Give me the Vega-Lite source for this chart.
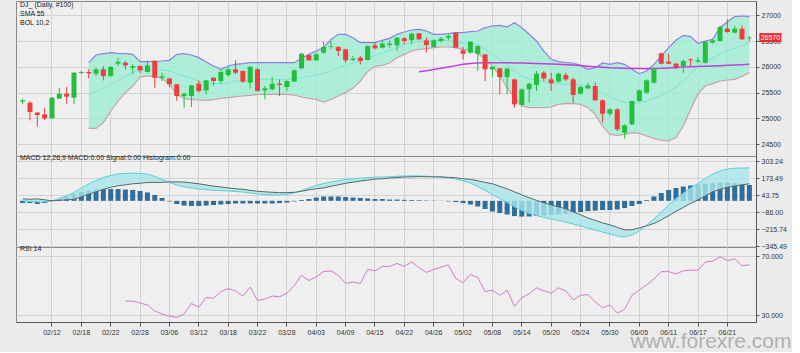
{
  "$schema": "https://vega.github.io/schema/vega-lite/v6.json",
  "background": "#ebebeb",
  "padding": {"left": 15, "top": 0, "right": 0, "bottom": 0},
  "spacing": 0,
  "bounds": "flush",
  "resolve": {"scale": {"x": "shared"}},
  "config": {
    "font": "Liberation Sans",
    "view": {"stroke": "#888888", "fill": "#efefef"},
    "axis": {"labelFontSize": 7, "labelColor": "#333333", "gridColor": "#d3d3d3", "domainColor": "#555555", "tickColor": "#555555", "labelFont": "Liberation Sans", "labelOverlap": false},
    "title": {"fontSize": 7, "fontWeight": "normal", "color": "#222222", "font": "Liberation Sans"}
  },
  "data": {"values": [
    {"d":"02/06","o":25324,"h":25382,"l":25272,"c":25349,"m":-1,"g":15,"hs":-17},
    {"d":"02/07","o":25304,"h":25337,"l":24960,"c":25123,"m":-5,"g":12,"hs":-17},
    {"d":"02/08","o":25110,"h":25123,"l":24837,"c":25064,"m":-9,"g":15,"hs":-24},
    {"d":"02/11","o":25077,"h":25207,"l":24967,"c":25000,"m":-9,"g":8,"hs":-17},
    {"d":"02/12","o":25000,"h":25414,"l":24995,"c":25401,"m":-1,"g":0,"hs":-1},
    {"d":"02/13","o":25382,"h":25596,"l":25382,"c":25479,"m":18,"g":4,"hs":14},
    {"d":"02/14","o":25479,"h":25609,"l":25285,"c":25421,"m":37,"g":8,"hs":29},
    {"d":"02/15","o":25401,"h":25900,"l":25272,"c":25888,"m":64,"g":11,"hs":52},
    {"d":"02/18","o":25880,"h":25920,"l":25868,"c":25900,"m":98,"g":31,"hs":67},
    {"d":"02/19","o":25901,"h":25953,"l":25777,"c":25875,"m":128,"g":50,"hs":79,"bu":26082,"bm":25466,"bl":24805},
    {"d":"02/20","o":25868,"h":25985,"l":25823,"c":25953,"m":155,"g":69,"hs":86,"bu":26231,"bm":25518,"bl":24805},
    {"d":"02/21","o":25953,"h":26017,"l":25738,"c":25823,"m":178,"g":88,"hs":90,"bu":26257,"bm":25583,"bl":24915},
    {"d":"02/22","o":25823,"h":26017,"l":25803,"c":25998,"m":193,"g":103,"hs":90,"bu":26277,"bm":25661,"bl":25142},
    {"d":"02/25","o":26063,"h":26180,"l":26017,"c":26102,"m":205,"g":115,"hs":90,"bu":26264,"bm":25739,"bl":25336},
    {"d":"02/26","o":26082,"h":26115,"l":25953,"c":26030,"m":209,"g":122,"hs":86,"bu":26257,"bm":25816,"bl":25499,"r":39.6},
    {"d":"02/27","o":25985,"h":26050,"l":25868,"c":26017,"m":212,"g":130,"hs":83,"bu":26244,"bm":25888,"bl":25628,"r":39.6},
    {"d":"02/28","o":26017,"h":26030,"l":25875,"c":25933,"m":209,"g":134,"hs":75,"bu":26102,"bm":25940,"bl":25803,"r":38.3},
    {"d":"03/01","o":25901,"h":26128,"l":25888,"c":26030,"m":203,"g":140,"hs":64,"bu":26102,"bm":25959,"bl":25823,"r":37},
    {"d":"03/04","o":26115,"h":26128,"l":25596,"c":25790,"m":186,"g":141,"hs":45,"bu":26108,"bm":25959,"bl":25816,"r":32.9},
    {"d":"03/05","o":25790,"h":25888,"l":25726,"c":25816,"m":163,"g":141,"hs":22,"bu":26115,"bm":25946,"bl":25777,"r":30.9},
    {"d":"03/06","o":25777,"h":25790,"l":25609,"c":25661,"m":140,"g":145,"hs":-5,"bu":26128,"bm":25920,"bl":25661,"r":29.5},
    {"d":"03/07","o":25661,"h":25670,"l":25337,"c":25434,"m":121,"g":145,"hs":-24,"bu":26244,"bm":25868,"bl":25466,"r":28.5},
    {"d":"03/08","o":25434,"h":25499,"l":25207,"c":25479,"m":107,"g":143,"hs":-36,"bu":26257,"bm":25823,"bl":25388,"r":31},
    {"d":"03/11","o":25434,"h":25650,"l":25220,"c":25641,"m":98,"g":137,"hs":-39,"bu":26231,"bm":25777,"bl":25362,"r":38},
    {"d":"03/12","o":25674,"h":25739,"l":25499,"c":25531,"m":90,"g":130,"hs":-39,"bu":26180,"bm":25726,"bl":25356,"r":35.5},
    {"d":"03/13","o":25544,"h":25739,"l":25466,"c":25739,"m":85,"g":121,"hs":-36,"bu":26095,"bm":25680,"bl":25349,"r":42},
    {"d":"03/14","o":25790,"h":25803,"l":25641,"c":25726,"m":80,"g":112,"hs":-32,"bu":26017,"bm":25674,"bl":25362,"r":41.5},
    {"d":"03/15","o":25726,"h":25953,"l":25674,"c":25901,"m":78,"g":106,"hs":-28,"bu":25953,"bm":25674,"bl":25388,"r":46},
    {"d":"03/18","o":25842,"h":25998,"l":25803,"c":25953,"m":75,"g":99,"hs":-24,"bu":26017,"bm":25693,"bl":25401,"r":48},
    {"d":"03/19","o":25953,"h":26128,"l":25855,"c":25888,"m":71,"g":92,"hs":-20,"bu":26050,"bm":25726,"bl":25421,"r":46.5},
    {"d":"03/20","o":25920,"h":25933,"l":25693,"c":25713,"m":67,"g":88,"hs":-20,"bu":26063,"bm":25739,"bl":25434,"r":43},
    {"d":"03/21","o":25693,"h":26017,"l":25583,"c":26004,"m":60,"g":80,"hs":-20,"bu":26082,"bm":25752,"bl":25447,"r":49},
    {"d":"03/22","o":25953,"h":25985,"l":25518,"c":25531,"m":52,"g":73,"hs":-20,"bu":26082,"bm":25752,"bl":25466,"r":40},
    {"d":"03/25","o":25544,"h":25628,"l":25369,"c":25583,"m":48,"g":69,"hs":-20,"bu":26082,"bm":25758,"bl":25466,"r":41},
    {"d":"03/26","o":25564,"h":25803,"l":25544,"c":25674,"m":45,"g":65,"hs":-20,"bu":26082,"bm":25758,"bl":25466,"r":43},
    {"d":"03/27","o":25674,"h":25758,"l":25434,"c":25648,"m":46,"g":63,"hs":-17,"bu":26082,"bm":25758,"bl":25466,"r":42.5},
    {"d":"03/28","o":25609,"h":25739,"l":25531,"c":25726,"m":50,"g":63,"hs":-13,"bu":26082,"bm":25758,"bl":25466,"r":45},
    {"d":"03/29","o":25713,"h":25953,"l":25706,"c":25933,"m":60,"g":65,"hs":-5,"bu":26082,"bm":25771,"bl":25453,"r":50},
    {"d":"04/01","o":25972,"h":26277,"l":25953,"c":26257,"m":79,"g":73,"hs":6,"bu":26167,"bm":25790,"bl":25414,"r":57},
    {"d":"04/02","o":26225,"h":26244,"l":26115,"c":26128,"m":98,"g":84,"hs":14,"bu":26244,"bm":25816,"bl":25388,"r":53.5},
    {"d":"04/03","o":26128,"h":26277,"l":26115,"c":26244,"m":117,"g":92,"hs":25,"bu":26309,"bm":25842,"bl":25369,"r":56},
    {"d":"04/04","o":26277,"h":26491,"l":26257,"c":26387,"m":132,"g":99,"hs":33,"bu":26374,"bm":25868,"bl":25317,"r":59.5},
    {"d":"04/05","o":26394,"h":26504,"l":26342,"c":26407,"m":144,"g":111,"hs":33,"bu":26536,"bm":25933,"bl":25369,"r":60},
    {"d":"04/08","o":26387,"h":26407,"l":26212,"c":26309,"m":155,"g":122,"hs":33,"bu":26634,"bm":25985,"bl":25434,"r":57},
    {"d":"04/09","o":26342,"h":26355,"l":26082,"c":26128,"m":163,"g":134,"hs":29,"bu":26634,"bm":26030,"bl":25499,"r":51.5},
    {"d":"04/10","o":26134,"h":26212,"l":26115,"c":26160,"m":168,"g":143,"hs":25,"bu":26569,"bm":26076,"bl":25583,"r":52.5},
    {"d":"04/11","o":26180,"h":26212,"l":26050,"c":26115,"m":173,"g":151,"hs":22,"bu":26471,"bm":26115,"bl":25726,"r":51.5},
    {"d":"04/12","o":26134,"h":26420,"l":26128,"c":26407,"m":176,"g":158,"hs":18,"bu":26471,"bm":26167,"bl":25907,"r":61},
    {"d":"04/15","o":26420,"h":26471,"l":26342,"c":26361,"m":180,"g":166,"hs":14,"bu":26471,"bm":26225,"bl":26011,"r":60},
    {"d":"04/16","o":26374,"h":26504,"l":26361,"c":26452,"m":182,"g":168,"hs":14,"bu":26517,"bm":26264,"bl":26030,"r":63},
    {"d":"04/17","o":26426,"h":26517,"l":26374,"c":26452,"m":184,"g":174,"hs":10,"bu":26556,"bm":26322,"bl":26076,"r":63},
    {"d":"04/18","o":26420,"h":26582,"l":26309,"c":26569,"m":187,"g":177,"hs":10,"bu":26634,"bm":26374,"bl":26180,"r":65},
    {"d":"04/22","o":26556,"h":26582,"l":26439,"c":26504,"m":190,"g":182,"hs":8,"bu":26679,"bm":26439,"bl":26244,"r":63},
    {"d":"04/23","o":26517,"h":26666,"l":26439,"c":26646,"m":190,"g":183,"hs":6,"bu":26718,"bm":26471,"bl":26309,"r":66},
    {"d":"04/24","o":26653,"h":26666,"l":26517,"c":26536,"m":190,"g":185,"hs":5,"bu":26731,"bm":26491,"bl":26342,"s":25907,"r":62},
    {"d":"04/25","o":26517,"h":26569,"l":26277,"c":26426,"m":187,"g":184,"hs":3,"bu":26698,"bm":26504,"bl":26355,"s":25925,"r":59},
    {"d":"04/26","o":26387,"h":26536,"l":26374,"c":26517,"m":185,"g":183,"hs":2,"bu":26634,"bm":26504,"bl":26374,"s":25950,"r":61},
    {"d":"04/29","o":26504,"h":26582,"l":26471,"c":26549,"m":182,"g":183,"hs":-1,"bu":26634,"bm":26517,"bl":26387,"s":25975,"r":62.5},
    {"d":"04/30","o":26569,"h":26634,"l":26517,"c":26601,"m":174,"g":179,"hs":-4,"bu":26646,"bm":26504,"bl":26387,"s":26000,"r":64},
    {"d":"05/01","o":26666,"h":26679,"l":26361,"c":26374,"m":167,"g":176,"hs":-9,"bu":26666,"bm":26491,"bl":26374,"s":26025,"r":55},
    {"d":"05/02","o":26322,"h":26387,"l":26147,"c":26257,"m":152,"g":168,"hs":-17,"bu":26666,"bm":26471,"bl":26342,"s":26050,"r":52},
    {"d":"05/03","o":26277,"h":26504,"l":26257,"c":26491,"m":136,"g":164,"hs":-28,"bu":26685,"bm":26452,"bl":26322,"s":26068,"r":57.5},
    {"d":"05/06","o":26257,"h":26420,"l":25920,"c":26407,"m":109,"g":153,"hs":-43,"bu":26698,"bm":26439,"bl":26264,"s":26077,"r":55.5},
    {"d":"05/07","o":26244,"h":26250,"l":25726,"c":25953,"m":79,"g":141,"hs":-62,"bu":26763,"bm":26342,"bl":26147,"s":26082,"r":46},
    {"d":"05/08","o":25953,"h":26017,"l":25803,"c":26004,"m":48,"g":130,"hs":-81,"bu":26796,"bm":26244,"bl":26017,"s":26083,"r":47},
    {"d":"05/09","o":25972,"h":25985,"l":25466,"c":25803,"m":18,"g":111,"hs":-93,"bu":26809,"bm":26147,"bl":25823,"s":26082,"r":43.5},
    {"d":"05/10","o":25803,"h":25985,"l":25466,"c":25966,"m":-13,"g":92,"hs":-104,"bu":26776,"bm":26050,"bl":25596,"s":26080,"r":47},
    {"d":"05/13","o":25758,"h":25777,"l":25207,"c":25272,"m":-47,"g":69,"hs":-116,"bu":26860,"bm":25920,"bl":25401,"s":26077,"r":36},
    {"d":"05/14","o":25259,"h":25583,"l":25239,"c":25564,"m":-74,"g":46,"hs":-120,"bu":26763,"bm":25823,"bl":25239,"s":26074,"r":42},
    {"d":"05/15","o":25564,"h":25693,"l":25304,"c":25674,"m":-97,"g":23,"hs":-120,"bu":26634,"bm":25771,"bl":25207,"s":26070,"r":44.5},
    {"d":"05/16","o":25648,"h":25920,"l":25531,"c":25869,"m":-112,"g":4,"hs":-116,"bu":26504,"bm":25739,"bl":25207,"s":26066,"r":48.5},
    {"d":"05/17","o":25888,"h":25920,"l":25726,"c":25777,"m":-126,"g":-14,"hs":-112,"bu":26309,"bm":25713,"bl":25207,"s":26061,"r":46.5},
    {"d":"05/20","o":25758,"h":25888,"l":25531,"c":25680,"m":-139,"g":-31,"hs":-108,"bu":26147,"bm":25693,"bl":25220,"s":26056,"r":45},
    {"d":"05/21","o":25713,"h":25888,"l":25693,"c":25869,"m":-150,"g":-46,"hs":-104,"bu":26102,"bm":25674,"bl":25272,"s":26050,"r":48.5},
    {"d":"05/22","o":25842,"h":25888,"l":25726,"c":25758,"m":-162,"g":-61,"hs":-101,"bu":26082,"bm":25661,"bl":25291,"s":26043,"r":46.5},
    {"d":"05/23","o":25758,"h":25790,"l":25304,"c":25453,"m":-177,"g":-84,"hs":-93,"bu":26076,"bm":25661,"bl":25285,"s":26035,"r":40.5},
    {"d":"05/24","o":25479,"h":25628,"l":25466,"c":25609,"m":-192,"g":-107,"hs":-85,"bu":26030,"bm":25648,"bl":25272,"s":26025,"r":43.5},
    {"d":"05/27","o":25583,"h":25693,"l":25564,"c":25641,"m":-207,"g":-130,"hs":-78,"bu":25953,"bm":25609,"bl":25207,"s":26015,"r":44},
    {"d":"05/28","o":25628,"h":25693,"l":25337,"c":25349,"m":-223,"g":-149,"hs":-74,"bu":25985,"bm":25564,"bl":25077,"s":26005,"r":39},
    {"d":"05/29","o":25349,"h":25369,"l":24915,"c":25090,"m":-238,"g":-168,"hs":-70,"bu":26076,"bm":25499,"bl":24850,"s":25995,"r":35},
    {"d":"05/30","o":25090,"h":25194,"l":25045,"c":25174,"m":-253,"g":-183,"hs":-70,"bu":26050,"bm":25414,"bl":24688,"s":25985,"r":37},
    {"d":"05/31","o":25174,"h":25194,"l":24753,"c":24785,"m":-268,"g":-202,"hs":-66,"bu":26082,"bm":25356,"bl":24669,"s":25980,"r":31.5},
    {"d":"06/03","o":24720,"h":24883,"l":24604,"c":24863,"m":-276,"g":-221,"hs":-55,"bu":26050,"bm":25317,"bl":24688,"s":25975,"r":34},
    {"d":"06/04","o":24883,"h":25349,"l":24870,"c":25337,"m":-261,"g":-221,"hs":-39,"bu":25953,"bm":25291,"bl":24720,"s":25971,"r":43.5},
    {"d":"06/05","o":25337,"h":25564,"l":25324,"c":25544,"m":-230,"g":-206,"hs":-24,"bu":25868,"bm":25304,"bl":24707,"s":25968,"r":47},
    {"d":"06/06","o":25499,"h":25758,"l":25479,"c":25739,"m":-184,"g":-191,"hs":6,"bu":25920,"bm":25336,"bl":24656,"s":25966,"r":50.5},
    {"d":"06/07","o":25693,"h":25985,"l":25674,"c":25953,"m":-139,"g":-172,"hs":33,"bu":26050,"bm":25388,"bl":24610,"s":25968,"r":54.5},
    {"d":"06/10","o":26264,"h":26277,"l":26050,"c":26063,"m":-85,"g":-145,"hs":60,"bu":26212,"bm":25453,"bl":24571,"s":25972,"r":59.5},
    {"d":"06/11","o":26102,"h":26257,"l":26050,"c":26063,"m":-32,"g":-114,"hs":83,"bu":26374,"bm":25518,"bl":24559,"s":25980,"r":59.5},
    {"d":"06/12","o":26063,"h":26082,"l":25953,"c":25998,"m":18,"g":-80,"hs":98,"bu":26517,"bm":25609,"bl":24623,"s":25990,"r":58},
    {"d":"06/13","o":26017,"h":26147,"l":25888,"c":26115,"m":60,"g":-50,"hs":109,"bu":26614,"bm":25726,"bl":24850,"s":25998,"r":60},
    {"d":"06/14","o":26147,"h":26160,"l":26017,"c":26128,"m":98,"g":-19,"hs":117,"bu":26588,"bm":25868,"bl":25174,"s":26004,"r":60.5},
    {"d":"06/17","o":26102,"h":26193,"l":26082,"c":26128,"m":132,"g":8,"hs":125,"bu":26452,"bm":26017,"bl":25479,"s":26010,"r":60.5},
    {"d":"06/18","o":26082,"h":26504,"l":26063,"c":26491,"m":170,"g":38,"hs":132,"bu":26504,"bm":26115,"bl":25628,"s":26015,"r":66},
    {"d":"06/19","o":26471,"h":26536,"l":26452,"c":26517,"m":205,"g":69,"hs":136,"bu":26536,"bm":26167,"bl":25674,"s":26020,"r":66.5},
    {"d":"06/20","o":26504,"h":26796,"l":26491,"c":26776,"m":228,"g":88,"hs":140,"bu":26763,"bm":26244,"bl":25726,"s":26024,"r":69.5},
    {"d":"06/21","o":26744,"h":26925,"l":26666,"c":26679,"m":243,"g":103,"hs":140,"bu":26880,"bm":26309,"bl":25745,"s":26030,"r":67},
    {"d":"06/24","o":26666,"h":26796,"l":26653,"c":26744,"m":249,"g":113,"hs":136,"bu":26977,"bm":26361,"bl":25758,"s":26037,"r":68},
    {"d":"06/25","o":26744,"h":26809,"l":26524,"c":26536,"m":251,"g":122,"hs":128,"bu":26990,"bm":26420,"bl":25816,"s":26044,"r":63.5},
    {"d":"06/26","o":26556,"h":26601,"l":26504,"c":26570,"m":251,"g":130,"hs":121,"bu":26977,"bm":26471,"bl":25888,"s":26050,"r":64}
  ]},
  "vconcat": [
    {
      "width": 740,
      "height": 155,
      "title": {"text": ["DJ_ (Daily, #100)", "SMA 55", "BOL 10,2"], "anchor": "start", "frame": "group", "orient": "top", "offset": -25, "baseline": "top", "lineHeight": 9, "dx": 4},
      "resolve": {"scale": {"y": "shared"}, "axis": {"y": "independent"}},
      "encoding": {
        "x": {"field": "d", "type": "ordinal", "sort": null, "title": null,
              "scale": {"paddingInner": 0.3, "paddingOuter": 0.55},
              "axis": {"values": ["02/12","02/18","02/22","02/28","03/06","03/12","03/18","03/22","03/28","04/03","04/09","04/15","04/22","04/26","05/02","05/08","05/14","05/20","05/24","05/30","06/05","06/11","06/17","06/21"], "labels": false, "tickSize": 3, "grid": true}}
      },
      "layer": [
        {"mark": {"type": "area", "color": "#9eedd3", "opacity": 0.8},
         "encoding": {"y": {"field": "bl", "type": "quantitative", "scale": {"domain": [24267, 27282], "nice": false, "zero": false},
                            "axis": {"orient": "right", "values": [24500, 25500, 26500], "format": "d", "tickSize": 3, "labelPadding": 2, "title": null, "grid": true, "labelOverlap": false}},
                      "y2": {"field": "bu"}}},
        {"mark": {"type": "line", "color": "#8c7fe6", "strokeWidth": 1.2},
         "encoding": {"y": {"field": "bu", "type": "quantitative",
                            "axis": {"orient": "right", "values": [25000, 26000, 27000], "format": "d", "tickSize": 3, "labelPadding": 2, "title": null, "grid": true, "labelOverlap": false}}}},
        {"mark": {"type": "line", "color": "#c9a3a3", "strokeWidth": 1.2}, "encoding": {"y": {"field": "bl", "type": "quantitative", "axis": null}}},
        {"mark": {"type": "line", "color": "#80e3d6", "strokeWidth": 1}, "encoding": {"y": {"field": "bm", "type": "quantitative", "axis": null}}},
        {"mark": {"type": "line", "color": "#c23fe0", "strokeWidth": 1.5}, "encoding": {"y": {"field": "s", "type": "quantitative", "axis": null}}},
        {"mark": {"type": "rule", "strokeWidth": 1},
         "encoding": {"y": {"field": "l", "type": "quantitative", "axis": null}, "y2": {"field": "h"},
                      "color": {"condition": {"test": "datum.c >= datum.o", "value": "#22bf3a"}, "value": "#f03c3c"}}},
        {"mark": {"type": "bar", "size": 5},
         "encoding": {"y": {"field": "o", "type": "quantitative", "axis": null}, "y2": {"field": "c"},
                      "color": {"condition": {"test": "datum.c >= datum.o", "value": "#22bf3a"}, "value": "#f03c3c"}}},
        {"transform": [{"filter": "datum.d == '06/26'"}],
         "mark": {"type": "tick", "color": "#f02a2a", "size": 22, "thickness": 9, "xOffset": 21, "opacity": 1},
         "encoding": {"y": {"field": "c", "type": "quantitative", "axis": null}}},
        {"transform": [{"filter": "datum.d == '06/26'"}],
         "mark": {"type": "text", "color": "#ffffff", "fontSize": 7, "xOffset": 21, "align": "center", "baseline": "middle"},
         "encoding": {"y": {"field": "c", "type": "quantitative", "axis": null}, "text": {"field": "c", "type": "quantitative", "format": "d"}}}
      ]
    },
    {
      "width": 740,
      "height": 91,
      "title": {"text": "MACD 12,26,9  MACD:0.00  Signal:0.00  Histogram:0.00", "anchor": "start", "frame": "group", "orient": "top", "offset": -5, "baseline": "top", "dx": 4},
      "resolve": {"scale": {"y": "shared"}, "axis": {"y": "independent"}},
      "encoding": {
        "x": {"field": "d", "type": "ordinal", "sort": null, "title": null,
              "axis": {"values": ["02/12","02/18","02/22","02/28","03/06","03/12","03/18","03/22","03/28","04/03","04/09","04/15","04/22","04/26","05/02","05/08","05/14","05/20","05/24","05/30","06/05","06/11","06/17","06/21"], "labels": false, "tickSize": 3, "grid": true}}
      },
      "layer": [
        {"mark": {"type": "bar", "size": 5, "color": "#2f6e9c"},
         "encoding": {"y": {"field": "hs", "type": "quantitative", "scale": {"domain": [-352, 342], "nice": false, "zero": false},
                            "axis": {"orient": "right", "values": [-345.49, -86.0, 173.49], "format": ".2f", "tickSize": 3, "labelPadding": 2, "title": null, "grid": true, "labelOverlap": false}},
                      "y2": {"datum": 0}}},
        {"mark": {"type": "area", "color": "#a8e6ea", "opacity": 0.8}, "encoding": {"y": {"field": "m", "type": "quantitative", "axis": null}, "y2": {"field": "g"}}},
        {"mark": {"type": "line", "color": "#5cced6", "strokeWidth": 1},
         "encoding": {"y": {"field": "m", "type": "quantitative",
                            "axis": {"orient": "right", "values": [-215.74, 43.75, 303.24], "format": ".2f", "tickSize": 3, "labelPadding": 2, "title": null, "grid": true, "labelOverlap": false}}}},
        {"mark": {"type": "line", "color": "#5a6868", "strokeWidth": 1}, "encoding": {"y": {"field": "g", "type": "quantitative", "axis": null}}}
      ]
    },
    {
      "width": 740,
      "height": 75,
      "title": {"text": "RSI 14", "anchor": "start", "frame": "group", "orient": "top", "offset": -5, "baseline": "top", "dx": 4},
      "encoding": {
        "x": {"field": "d", "type": "ordinal", "sort": null,
              "title": "www.forexre.com",
              "axis": {"values": ["02/12","02/18","02/22","02/28","03/06","03/12","03/18","03/22","03/28","04/03","04/09","04/15","04/22","04/26","05/02","05/08","05/14","05/20","05/24","05/30","06/05","06/11","06/17","06/21"], "labelAngle": 0, "tickSize": 4, "labelPadding": 2, "grid": true,
                       "titleFontSize": 21, "titleColor": "#b0b0b0", "titleFontWeight": "normal", "titleFont": "Liberation Sans", "titleX": 775, "titleY": 25.5, "titleAlign": "right", "titleBaseline": "alphabetic", "titleAnchor": "end"}}
      },
      "layer": [
        {"mark": {"type": "line", "color": "#d27cc6", "strokeWidth": 1},
         "encoding": {"y": {"field": "r", "type": "quantitative", "scale": {"domain": [25.5, 76.1], "nice": false, "zero": false},
                            "axis": {"orient": "right", "values": [30, 70], "format": ".3f", "tickSize": 3, "labelPadding": 2, "title": null, "grid": true, "labelOverlap": false}}}}
      ]
    }
  ]
}
